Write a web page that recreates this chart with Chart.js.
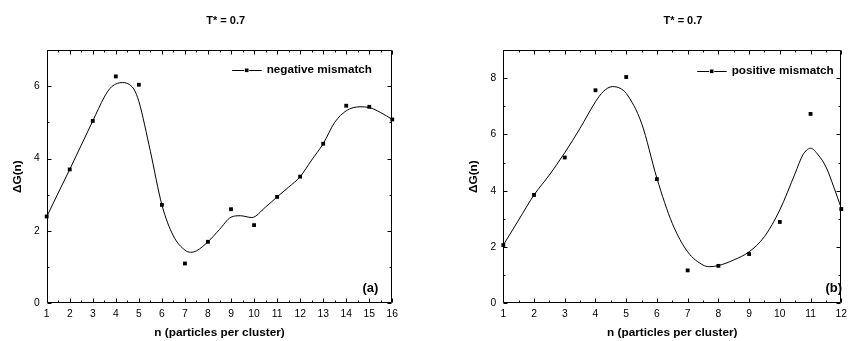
<!DOCTYPE html>
<html><head><meta charset="utf-8">
<script src="https://cdn.jsdelivr.net/npm/chart.js@4/dist/chart.umd.min.js"></script>
<style>
html,body{margin:0;padding:0;background:#fff;width:852px;height:341px;overflow:hidden}
#wa{position:absolute;left:0;top:0;width:426px;height:341px}
#wb{position:absolute;left:456px;top:0;width:396px;height:341px}
</style></head><body>
<div id="wa"><canvas id="ca"></canvas></div>
<div id="wb"><canvas id="cb"></canvas></div>
<script>
// ---- data ----
const titleText = 'T* = 0.7';
const xTitle = 'n (particles per cluster)';
const yTitle = 'ΔG(n)';

// panel (a): negative mismatch
const nA = [1,2,3,4,5,6,7,8,9,10,11,12,13,14,15,16];
const gA = [2.40,3.70,5.04,6.27,6.04,2.72,1.10,1.70,2.60,2.16,2.94,3.50,4.41,5.46,5.43,5.08];
const fitXA = [1,1.5,2,2.5,3,3.5,3.75,4,4.3,4.6,4.8,5,5.5,6,6.5,7,7.25,7.5,8,8.5,9,9.4,9.9,10.5,11,11.5,12,12.5,13,13.5,14,14.6,15,15.5,16];
const fitYA = [2.39,3.05,3.70,4.37,5.04,5.70,5.94,6.06,6.10,6.04,5.90,5.58,4.20,2.72,1.86,1.47,1.41,1.45,1.70,2.04,2.38,2.42,2.37,2.66,2.94,3.21,3.50,3.96,4.41,5.00,5.32,5.43,5.41,5.27,5.08];
const xTicksA = [1,2,3,4,5,6,7,8,9,10,11,12,13,14,15,16];
const yTicksA = [0,2,4,6];

// panel (b): positive mismatch
const nB = [1,2,3,4,5,6,7,8,9,10,11,12];
const gB = [2.07,3.85,5.18,7.57,8.04,4.41,1.17,1.33,1.75,2.89,6.73,3.35];
const fitXB = [1,1.5,2,2.5,3,3.5,4,4.25,4.55,4.8,5,5.5,6,6.5,7,7.5,7.7,8,8.5,9,9.5,10,10.5,10.75,11,11.25,11.5,11.75,12];
const fitYB = [2.07,2.96,3.85,4.56,5.35,6.22,7.16,7.52,7.70,7.64,7.46,6.40,4.44,2.84,1.83,1.36,1.30,1.34,1.54,1.83,2.37,3.32,4.62,5.27,5.51,5.27,4.85,4.15,3.38];
const xTicksB = [1,2,3,4,5,6,7,8,9,10,11,12];
const yTicksB = [0,2,4,6,8];

const FONT = "'Liberation Sans', Arial, sans-serif";

const decor = {
  id: 'decor',
  afterDraw(chart, args, o) {
    const ctx = chart.ctx, ca = chart.chartArea;
    const xs = chart.scales.x, ys = chart.scales.y;
    ctx.save();
    ctx.strokeStyle = '#000'; ctx.lineWidth = 1;
    const L = Math.round(ca.left) + 0.5, R = Math.round(ca.right) - 0.5;
    const T = Math.round(ca.top) + 0.5, B = Math.round(ca.bottom) - 0.5;
    ctx.beginPath();
    ctx.rect(L, T, R - L, B - T);
    for (let v = xs.min; v <= xs.max + 1e-9; v += 0.5) {
      const p = Math.round(xs.getPixelForValue(v)) + 0.5;
      const len = Number.isInteger(v) ? 4 : 2;
      ctx.moveTo(p, B); ctx.lineTo(p, B - len);
      ctx.moveTo(p, T); ctx.lineTo(p, T + len);
    }
    for (let v = ys.min; v <= ys.max + 1e-9; v += 1) {
      const p = Math.round(ys.getPixelForValue(v)) + 0.5;
      const len = (v % 2 === 0) ? 4 : 2;
      ctx.moveTo(L, p); ctx.lineTo(L + len, p);
      ctx.moveTo(R, p); ctx.lineTo(R - len, p);
    }
    ctx.stroke();
    ctx.fillStyle = '#000';
    ctx.font = 'bold 11px ' + FONT;
    ctx.textAlign = 'center'; ctx.textBaseline = 'middle';
    ctx.fillText(o.title, o.titleX, 21);
    const tx = o.legendX, ly = o.legendY;
    ctx.beginPath();
    ctx.moveTo(tx - 34.5, ly + 0.5); ctx.lineTo(tx - 22.5, ly + 0.5);
    ctx.moveTo(tx - 17.5, ly + 0.5); ctx.lineTo(tx - 5, ly + 0.5);
    ctx.stroke();
    ctx.fillRect(tx - 21.8, ly - 1.5, 3.6, 3.6);
    ctx.font = 'bold 11.7px ' + FONT;
    ctx.textAlign = 'left';
    ctx.fillText(o.legend, tx, ly);
    ctx.font = 'bold 13px ' + FONT;
    ctx.textAlign = 'right';
    ctx.fillText(o.panel, o.panelX, 288);
    ctx.restore();
  }
};

function makeChart(id, n, g, fx, fy, xt, yt, xmax, ymax, axisW, padRight, o) {
  return new Chart(document.getElementById(id), {
    type: 'line',
    data: {
      datasets: [
        { data: fx.map((x, i) => ({x, y: fy[i]})), borderColor: '#000', borderWidth: 1,
          pointRadius: 0, fill: false, cubicInterpolationMode: 'monotone' },
        { data: n.map((x, i) => ({x, y: g[i]})), showLine: false, pointStyle: 'rect',
          pointRadius: 2.7, backgroundColor: '#000', borderWidth: 0, clip: false }
      ]
    },
    options: {
      responsive: true, maintainAspectRatio: false, animation: false, devicePixelRatio: 1,
      layout: { padding: { top: 50, right: padRight, left: 0, bottom: 0 } },
      plugins: { legend: { display: false }, tooltip: { enabled: false }, decor: o },
      scales: {
        x: {
          type: 'linear', min: 1, max: xmax,
          afterBuildTicks: s => { s.ticks = xt.map(v => ({ value: v })); },
          afterFit: s => { s.height = 37.7; },
          grid: { display: false, drawTicks: false }, border: { display: false },
          ticks: { color: '#000', padding: 5, maxRotation: 0, autoSkip: false,
                   font: { family: FONT, size: 10.3 } },
          title: { display: true, text: xTitle, color: '#000',
                   font: { family: FONT, size: 11.8, weight: 'bold' }, padding: { top: 0, bottom: 1 } }
        },
        y: {
          type: 'linear', min: 0, max: ymax,
          afterBuildTicks: s => { s.ticks = yt.map(v => ({ value: v })); },
          afterFit: s => { s.width = axisW; },
          grid: { display: false, drawTicks: false }, border: { display: false },
          ticks: { color: '#000', padding: 7, font: { family: FONT, size: 10.3 } },
          title: { display: true, text: yTitle, color: '#000',
                   font: { family: FONT, size: 11.8, weight: 'bold' }, padding: { top: 11, bottom: 0 } }
        }
      }
    },
    plugins: [decor]
  });
}

makeChart('ca', nA, gA, fitXA, fitYA, xTicksA, yTicksA, 16, 7, 46.7, 33.7,
  { title: titleText, titleX: 225.7, legend: 'negative mismatch', legendX: 266.7, legendY: 70,
    panel: '(a)', panelX: 378.3 });
makeChart('cb', nB, gB, fitXB, fitYB, xTicksB, yTicksB, 12, 9, 47.3, 3,
  { title: titleText, titleX: 227, legend: 'positive mismatch', legendX: 275.7, legendY: 71,
    panel: '(b)', panelX: 386 });
</script>
</body></html>
